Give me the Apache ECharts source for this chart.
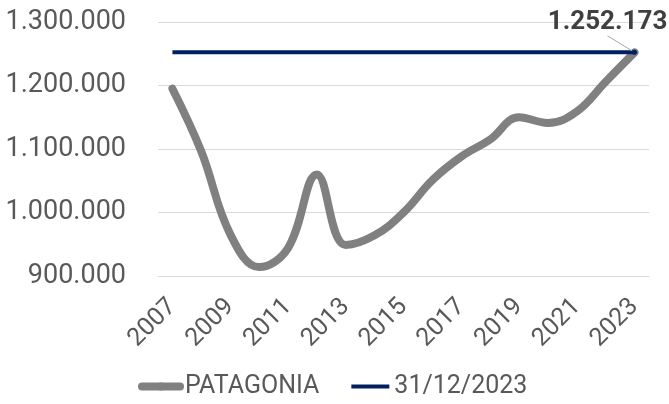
<!DOCTYPE html>
<html>
<head>
<meta charset="utf-8">
<script src="https://cdn.jsdelivr.net/npm/echarts@6/dist/echarts.min.js"></script>
<style>
  html, body { margin: 0; padding: 0; background: #fff; }
  #chart { width: 669px; height: 404px; }
</style>
</head>
<body>
<div id="chart"></div>
<script>
const years = ['2007', '2008', '2009', '2010', '2011', '2012', '2013', '2014', '2015',
  '2016', '2017', '2018', '2019', '2020', '2021', '2022', '2023'];
const patagonia = [1195000, 1096000, 966000, 914000, 944000, 1060000, 949000, 964000, 1000000,
  1051000, 1088000, 1115000, 1150000, 1141000, 1159000, 1206000, 1252173];
const refValue = 1252173;
const reference = years.map(() => refValue);
const yTicks = { min: 900000, max: 1300000, step: 100000 };

const fmt = (v) => String(Math.round(v)).replace(/\B(?=(\d{3})+(?!\d))/g, '.');
const lastIdx = years.length - 1;

const chart = echarts.init(document.getElementById('chart'));
chart.setOption({
  animation: false,
  textStyle: { fontFamily: 'Roboto' },
  grid: { left: 158, right: 20, top: 22, bottom: 128 },
  legend: {
    bottom: 0,
    left: 133,
    itemWidth: 38,
    itemHeight: 10,
    itemGap: 30,
    textStyle: { fontSize: 25, color: '#595959', fontFamily: 'Roboto' },
    data: [
      { name: 'PATAGONIA', lineStyle: { width: 8, color: '#808080', cap: 'round' } },
      { name: '31/12/2023', itemStyle: { opacity: 0 }, lineStyle: { width: 4, color: '#002060' } }
    ]
  },
  xAxis: {
    type: 'category',
    data: years,
    axisLine: { lineStyle: { color: '#d9d9d9' } },
    axisTick: { show: false },
    axisLabel: {
      interval: 1,
      rotate: 45,
      margin: 27,
      fontSize: 25,
      color: '#595959'
    }
  },
  yAxis: {
    type: 'value',
    min: yTicks.min,
    max: yTicks.max,
    interval: yTicks.step,
    splitLine: { lineStyle: { color: '#d9d9d9', width: 1 } },
    axisLabel: {
      fontSize: 27,
      color: '#595959',
      margin: 32,
      formatter: fmt
    }
  },
  series: [
    {
      name: 'PATAGONIA',
      type: 'line',
      data: patagonia,
      smooth: 0.4,
      symbol: 'none',
      lineStyle: { width: 8, color: '#808080', cap: 'round' },
      itemStyle: { color: '#808080' }
    },
    {
      name: '31/12/2023',
      type: 'line',
      data: reference,
      symbol: (v, p) => (p && p.dataIndex === lastIdx ? 'circle' : 'none'),
      symbolSize: 5,
      showAllSymbol: true,
      lineStyle: { width: 4, color: '#002060' },
      itemStyle: { color: '#002060' },
      label: {
        show: true,
        position: 'top',
        fontSize: 26,
        fontWeight: 'bold',
        color: '#404040',
        formatter: (p) => (p.dataIndex === lastIdx ? fmt(p.value) : '')
      },
      labelLayout: (p) => (p.dataIndex === lastIdx ? { dx: -27, dy: -9 } : {}),
      labelLine: { show: true, lineStyle: { color: '#a6a6a6', width: 1 } }
    }
  ]
});
</script>
</body>
</html>
